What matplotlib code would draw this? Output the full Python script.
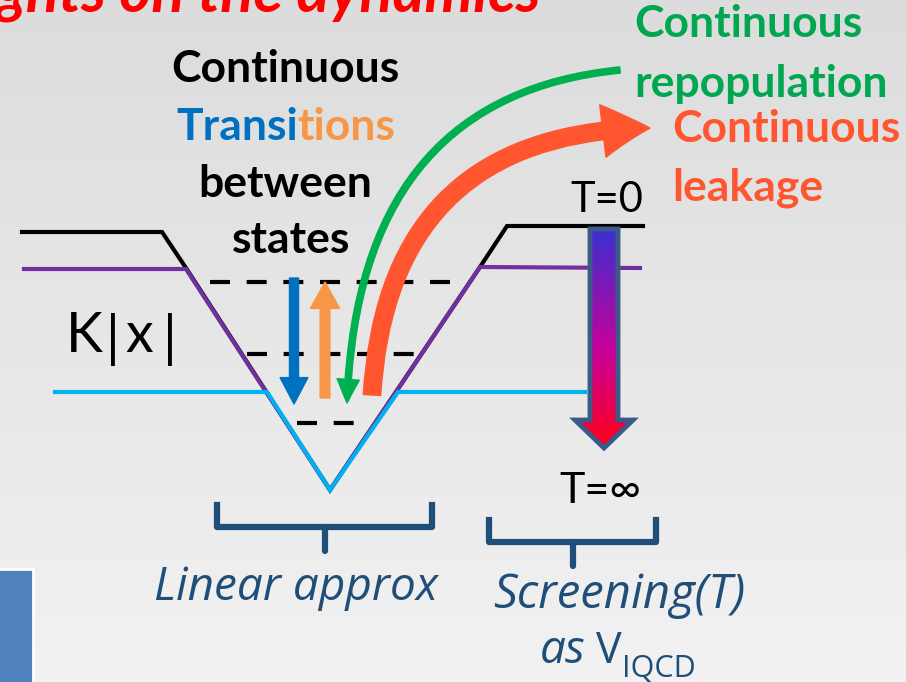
import numpy as np
import matplotlib.pyplot as plt
from matplotlib.patches import FancyArrowPatch, Polygon, Rectangle
from matplotlib.path import Path
from matplotlib.colors import LinearSegmentedColormap

# potential curves (pixel coords of the slide, y grows downwards)
black_x = [22, 162, 186, 330, 480, 507, 643]
black_y = [232, 232, 268, 490, 267, 226, 226]
purple_x = [24, 186, 330, 480, 640]
purple_y = [269, 269, 490, 267, 268]
blue_x = [55, 267, 330, 398, 585]
blue_y = [392, 392, 490, 392, 392]

# bound state levels: y, x start, x end
levels_y = [282, 354, 423]
levels_x0 = [210, 247, 297]
levels_x1 = [462, 420, 362]

# straight transition arrows: (x, y start, y end)
down_arrow = (294, 278, 404)
up_arrow = (325, 398, 282)

# curved arrows: start, control, end
green_curve = [(620, 70), (358, 96), (347, 403)]
red_curve = [(372, 395), (388, 132), (650, 128)]

# screening arrow outline
screen_x = [590, 618, 618, 633, 604, 575, 590]
screen_y = [229, 229, 420, 420, 448, 420, 420]

navy = "#1f4e79"
bold_font = "Lato"
ital_font = "Open Sans"

fig = plt.figure(figsize=(9.06, 6.82), dpi=100)
ax = fig.add_axes([0, 0, 1, 1])
ax.set_xlim(0, 906)
ax.set_ylim(682, 0)
ax.axis("off")

# background
bg = np.linspace(0, 1, 256).reshape(-1, 1)
bg_cmap = LinearSegmentedColormap.from_list("bg", ["#dcdcdc", "#f2f2f2"])
ax.imshow(bg, extent=(0, 906, 682, 0), cmap=bg_cmap, aspect="auto", zorder=0)

# blue box bottom-left
ax.add_patch(Rectangle((-5, 569), 38, 120, facecolor="#4f81bd", edgecolor="white", lw=2, zorder=1))

# potentials
ax.plot(black_x, black_y, color="black", lw=3, solid_joinstyle="miter", zorder=2)
ax.plot(purple_x, purple_y, color="#7030a0", lw=3, solid_joinstyle="miter", zorder=3)
ax.plot(blue_x, blue_y, color="#00b0f0", lw=3, solid_joinstyle="miter", zorder=4)

for y, x0, x1 in zip(levels_y, levels_x0, levels_x1):
    ax.plot([x0, x1], [y, y], color="black", lw=3, dashes=[4.8, 4], zorder=3)

# up/down arrows
x, y0, y1 = down_arrow
ax.add_patch(FancyArrowPatch((x, y0), (x, y1), arrowstyle="simple,head_width=20,head_length=19,tail_width=6.5",
                             mutation_scale=1, color="#0070c0", shrinkA=0, shrinkB=0, zorder=5))
x, y0, y1 = up_arrow
ax.add_patch(FancyArrowPatch((x, y0), (x, y1), arrowstyle="simple,head_width=21,head_length=19,tail_width=7",
                             mutation_scale=1, color="#f79646", shrinkA=0, shrinkB=0, zorder=5))

# curved arrows
codes = [Path.MOVETO, Path.CURVE3, Path.CURVE3]
ax.add_patch(FancyArrowPatch(path=Path(green_curve, codes),
                             arrowstyle="simple,head_width=16,head_length=17,tail_width=4.5",
                             mutation_scale=1, color="#00b050", zorder=6))
ax.add_patch(FancyArrowPatch(path=Path(red_curve, codes),
                             arrowstyle="simple,head_width=38,head_length=34,tail_width=12.5",
                             mutation_scale=1, color="#ff5630", zorder=6))

# screening arrow with gradient fill
shape = Polygon(list(zip(screen_x, screen_y)), closed=True, facecolor="none",
                edgecolor="#3c5a88", lw=3.5, joinstyle="miter", zorder=8)
ax.add_patch(shape)
grad_cmap = LinearSegmentedColormap.from_list("scr", [(0, "#3a30d0"), (0.55, "#c8009c"), (1, "#ff0018")])
im = ax.imshow(np.linspace(0, 1, 256).reshape(-1, 1), extent=(575, 633, 448, 229),
               cmap=grad_cmap, aspect="auto", zorder=7)
im.set_clip_path(shape)
ax.set_xlim(0, 906)
ax.set_ylim(682, 0)

# brackets
def bracket(x0, x1, ytop, ybar, ystub):
    xm = (x0 + x1) / 2
    ax.plot([x0, x0, x1, x1], [ytop, ybar, ybar, ytop], color=navy, lw=4.5, solid_joinstyle="round", zorder=3)
    ax.plot([xm, xm], [ybar, ystub], color=navy, lw=4.5, solid_capstyle="round", zorder=3)

bracket(217, 432, 505, 527, 551)
bracket(489, 656, 520, 542, 566)

renderer = fig.canvas.get_renderer()

def right_edge(t):
    bb = t.get_window_extent(renderer)
    return ax.transData.inverted().transform((bb.x1, bb.y0))[0]

# texts
ax.text(-4, 12, "ghts on the dynamics", color="#ff0000", fontsize=44, fontweight="bold",
        fontstyle="italic", family=bold_font, va="baseline", ha="left", zorder=9)

tk = dict(fontsize=32, fontweight="bold", family=bold_font, va="baseline", zorder=9)
ax.text(285, 82, "Continuous", color="black", ha="center", **tk)
t1 = ax.text(176, 140, "Transi", color="#0070c0", ha="left", **tk)
ax.text(right_edge(t1), 140, "tions", color="#f79646", ha="left", **tk)
ax.text(285, 197, "between", color="black", ha="center", **tk)
ax.text(291, 253, "states", color="black", ha="center", **tk)

ax.text(634, 37, "Continuous", color="#00a650", ha="left", **tk)
ax.text(634, 97, "repopulation", color="#00a650", ha="left", **tk)
ax.text(672, 142, "Continuous", color="#ff5630", ha="left", **tk)
ax.text(672, 200, "leakage", color="#ff5630", ha="left", **tk)

ax.text(643, 212, "T=0", color="black", fontsize=30, family=bold_font, ha="right", va="baseline", zorder=9)
ax.text(641, 503, "T=\u221e", color="black", fontsize=31, family=bold_font, ha="right", va="baseline", zorder=9)
kx = dict(color="black", fontsize=40, family=bold_font, ha="center", va="baseline", zorder=9)
ax.text(84, 352, "K", **kx)
ax.text(113, 356, "|", **kx)
ax.text(139, 352, "x", **kx)
ax.text(170, 356, "|", **kx)

it = dict(color=navy, fontsize=33, fontstyle="italic", family=ital_font, va="baseline", zorder=9)
ax.text(296, 600, "Linear approx", ha="center", **it)
ax.text(619, 608, "Screening(T)", ha="center", **dict(it, fontsize=34))
t2 = ax.text(540, 663, "as", ha="left", **it)
t3 = ax.text(right_edge(t2) + 10, 663, "V", ha="left", color=navy, fontsize=31, family=ital_font,
             va="baseline", zorder=9)
ax.text(right_edge(t3) + 1, 677, "IQCD", ha="left", color=navy, fontsize=22, family=ital_font,
        va="baseline", zorder=9)

fig.savefig("out.png", dpi=100)
